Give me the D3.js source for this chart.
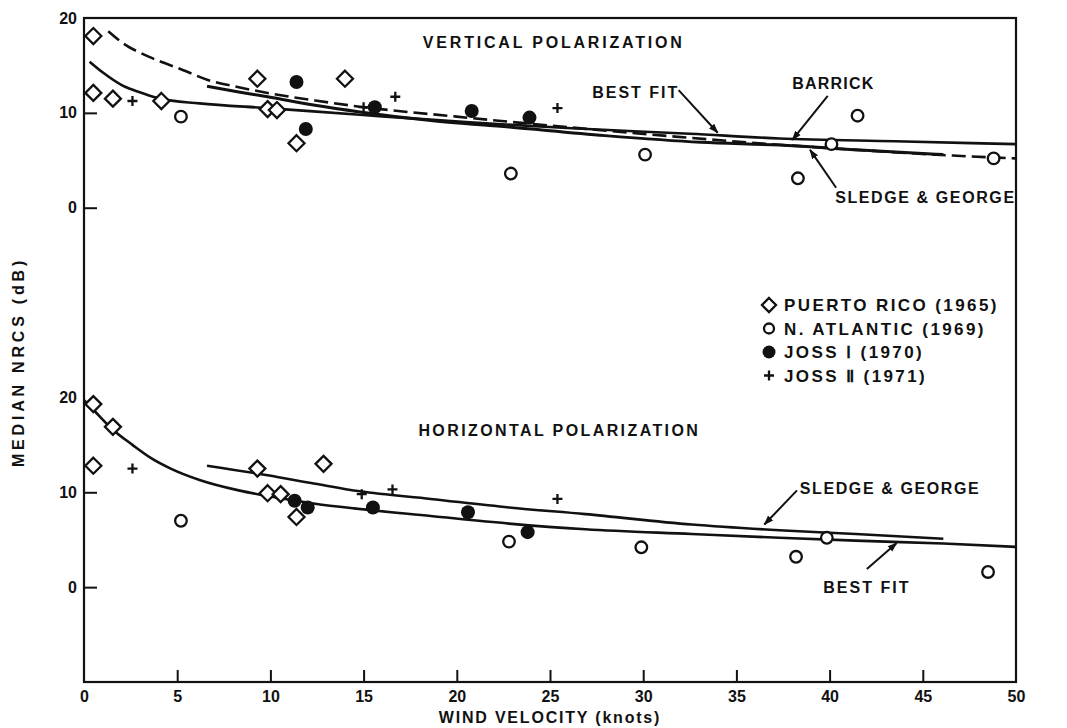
<!DOCTYPE html>
<html><head><meta charset="utf-8">
<script src="https://cdn.jsdelivr.net/npm/d3@7"></script>
<style>
html,body{margin:0;padding:0;background:#fff;}
svg text{font-family:"Liberation Sans",Arial,sans-serif;font-weight:bold;fill:#111;}
</style></head>
<body>
<svg id="chart" width="1067" height="728"></svg>
<script>
// ---------- DATA (wind velocity in knots, median NRCS in dB) ----------
const xTicks = [0,5,10,15,20,25,30,35,40,45,50];
const yTickLabelsTop = [20,10,0];      // vertical-polarization panel
const yTickLabelsBottom = [20,10,0];   // horizontal-polarization panel
const panelOffset = 40;                // dB shift of the upper panel on the shared axis

// Vertical polarization points
const vPuertoRico = [[0.5,18.1],[0.5,12.1],[1.55,11.5],[4.15,11.25],[9.3,13.6],[9.85,10.4],[10.35,10.3],[11.4,6.8],[14.0,13.6]];
const vNAtlantic  = [[5.2,9.6],[22.9,3.6],[30.1,5.6],[40.1,6.7],[38.3,3.1],[41.5,9.7],[48.8,5.2]];
const vJossI      = [[11.4,13.25],[11.9,8.3],[15.6,10.6],[20.8,10.2],[23.9,9.5]];
const vJossII     = [[2.6,11.25],[15.0,10.6],[16.7,11.7],[25.4,10.5]];
// Vertical polarization curves
const vBestFit = [[0.3,15.4],[1.05,14.2],[2.05,12.9],[3.1,12.1],[4.05,11.5],[6.2,11.0],[9.85,10.5],[14.8,9.8],[20.7,9.0],[25.9,8.4],[32.5,7.8],[37.3,7.3],[43.5,7.0],[50,6.7]];
const vSledge  = [[6.6,12.8],[8.3,12.2],[9.85,11.7],[12.4,10.8],[14.8,10.1],[18.6,9.2],[22.8,8.5],[27.95,7.6],[33.1,6.9],[37.3,6.6],[41.4,6.1],[46.1,5.6]];
const vBarrick = [[1.3,18.6],[2.05,17.4],[3.5,15.9],[5.2,14.6],[6.6,13.5],[8.3,12.7],[9.85,12.1],[12.4,11.3],[14.8,10.65],[20.0,9.6],[25.9,8.5],[31.1,7.6],[36.2,6.8],[41.4,6.1],[46.6,5.5],[50,5.2]];

// Horizontal polarization points
const hPuertoRico = [[0.5,19.3],[1.55,16.9],[0.5,12.8],[9.3,12.5],[9.85,9.9],[10.55,9.8],[11.4,7.4],[12.85,13.0]];
const hNAtlantic  = [[5.2,7.0],[22.8,4.8],[29.9,4.2],[39.85,5.2],[38.2,3.2],[48.5,1.6]];
const hJossI      = [[11.3,9.1],[12.0,8.4],[15.5,8.4],[20.6,7.9],[23.8,5.8]];
const hJossII     = [[2.6,12.5],[14.9,9.8],[16.55,10.3],[25.4,9.3]];
// Horizontal polarization curves
const hBestFit = [[0,19.7],[0.5,18.7],[1.55,16.6],[2.6,15.0],[3.6,13.6],[4.65,12.5],[6.2,11.3],[8.3,10.2],[9.85,9.6],[12.4,8.8],[14.5,8.3],[18.6,7.5],[22.8,6.7],[26.9,6.1],[32.6,5.6],[37.3,5.2],[41.4,4.9],[46.1,4.6],[50,4.25]];
const hSledge  = [[6.6,12.8],[9.85,11.8],[12.4,10.9],[14.8,10.1],[18.6,9.3],[22.8,8.4],[26.9,7.7],[32.6,6.6],[37.3,6.0],[41.4,5.6],[46.1,5.1]];

const legendItems = ["PUERTO RICO (1965)","N. ATLANTIC (1969)","JOSS Ⅰ (1970)","JOSS Ⅱ (1971)"];

// ---------- SCALES ----------
const svg = d3.select("#chart");
const x = d3.scaleLinear().domain([0,50]).range([84,1016]);
const y = d3.scaleLinear().domain([-10,60]).range([682,18]);
const yTop = v => y(v + panelOffset);
const yBot = v => y(v);

const ink = "#111";

// frame
svg.append("rect").attr("x",x(0)).attr("y",y(60)).attr("width",x(50)-x(0)).attr("height",y(-10)-y(60))
  .attr("fill","none").attr("stroke",ink).attr("stroke-width",2.2);

// x axis
const xAxis = d3.axisBottom(x).tickValues(xTicks).tickSizeInner(-12).tickSizeOuter(0).tickPadding(9).tickFormat(d3.format("d"));
const gx = svg.append("g").attr("transform",`translate(0,${y(-10)})`).call(xAxis);
gx.select(".domain").remove();
gx.selectAll(".tick line").attr("stroke",ink).attr("stroke-width",2);
gx.selectAll(".tick line").filter(d=>d===0||d===50).remove();
gx.selectAll("text").attr("font-size",16).style("font-family","Liberation Sans").style("font-weight","bold").attr("fill",ink);

// y axis (shared, two panels)
const yTickVals = [60,50,40,20,10,0];
const yAxis = d3.axisLeft(y).tickValues(yTickVals).tickSizeInner(-13).tickSizeOuter(0).tickPadding(7)
  .tickFormat(d => d >= panelOffset ? String(d - panelOffset) : String(d));
const gy = svg.append("g").attr("transform",`translate(${x(0)},0)`).call(yAxis);
gy.select(".domain").remove();
gy.selectAll(".tick line").attr("stroke",ink).attr("stroke-width",2);
gy.selectAll(".tick line").filter(d=>d===60||d===20).remove();
gy.selectAll("text").attr("font-size",16).style("font-family","Liberation Sans").style("font-weight","bold").attr("fill",ink);

// axis titles
svg.append("text").attr("x",(x(0)+x(50))/2).attr("y",723).attr("text-anchor","middle")
  .attr("font-size",16).attr("letter-spacing",1.8).text("WIND VELOCITY (knots)");
svg.append("text").attr("transform",`translate(24,${362}) rotate(-90)`).attr("text-anchor","middle")
  .attr("font-size",16).attr("letter-spacing",3.8).text("MEDIAN NRCS (dB)");

// ---------- CURVES ----------
function curve(data, yf, dashed){
  const line = d3.line().x(d=>x(d[0])).y(d=>yf(d[1])).curve(d3.curveMonotoneX);
  const p = svg.append("path").datum(data).attr("d",line).attr("fill","none")
    .attr("stroke",ink).attr("stroke-width",2.6).attr("stroke-linecap","butt");
  if(dashed) p.attr("stroke-dasharray","14,6");
  return p;
}
curve(vBarrick, yTop, true);
curve(vSledge, yTop, false).attr("stroke-width",3);
curve(vBestFit, yTop, false);
curve(hSledge, yBot, false);
curve(hBestFit, yBot, false);

// ---------- MARKERS ----------
function diamonds(data, yf){
  svg.append("g").selectAll("path").data(data).join("path")
    .attr("d", d=>{const cx=x(d[0]), cy=yf(d[1]), r=8; return `M${cx},${cy-r}L${cx+r},${cy}L${cx},${cy+r}L${cx-r},${cy}Z`;})
    .attr("fill","#fff").attr("stroke",ink).attr("stroke-width",2.3);
}
function circles(data, yf){
  svg.append("g").selectAll("circle").data(data).join("circle")
    .attr("cx",d=>x(d[0])).attr("cy",d=>yf(d[1])).attr("r",5.8)
    .attr("fill","#fff").attr("stroke",ink).attr("stroke-width",2.3);
}
function dots(data, yf){
  svg.append("g").selectAll("circle").data(data).join("circle")
    .attr("cx",d=>x(d[0])).attr("cy",d=>yf(d[1])).attr("r",7).attr("fill",ink);
}
function pluses(data, yf){
  svg.append("g").selectAll("path").data(data).join("path")
    .attr("d", d=>{const cx=x(d[0]), cy=yf(d[1]), r=5; return `M${cx-r},${cy}H${cx+r}M${cx},${cy-r}V${cy+r}`;})
    .attr("fill","none").attr("stroke",ink).attr("stroke-width",2.3);
}
diamonds(vPuertoRico, yTop); circles(vNAtlantic, yTop); dots(vJossI, yTop); pluses(vJossII, yTop);
diamonds(hPuertoRico, yBot); circles(hNAtlantic, yBot); dots(hJossI, yBot); pluses(hJossII, yBot);

// ---------- ANNOTATIONS ----------
svg.append("defs").append("marker").attr("id","ah").attr("viewBox","0 0 10 10").attr("refX",9).attr("refY",5)
  .attr("markerWidth",5).attr("markerHeight",5).attr("orient","auto-start-reverse")
  .append("path").attr("d","M0,1.5L10,5L0,8.5Z").attr("fill",ink);

function label(txt, kx, v, yf, anchor, ls){
  svg.append("text").attr("x",x(kx)).attr("y",yf(v)).attr("dy","0.36em").attr("text-anchor",anchor||"middle")
    .attr("font-size",16).attr("letter-spacing",ls==null?2:ls).text(txt);
}
function arrow(k1,v1,k2,v2,yf){
  svg.append("line").attr("x1",x(k1)).attr("y1",yf(v1)).attr("x2",x(k2)).attr("y2",yf(v2))
    .attr("stroke",ink).attr("stroke-width",2).attr("marker-end","url(#ah)");
}
label("VERTICAL POLARIZATION", 25.2, 17.4, yTop, "middle", 2.8);
label("BEST FIT", 29.6, 12.2, yTop);
arrow(31.9,12.4,34.0,7.9,yTop);
label("BARRICK", 40.2, 13.15, yTop, "middle", 1.2);
arrow(39.9,11.8,38.0,7.15,yTop);
label("SLEDGE & GEORGE", 40.3, 1.1, yTop, "start", 1.6);
arrow(40.35,2.1,38.95,6.1,yTop);

label("HORIZONTAL POLARIZATION", 25.5, 16.55, yBot, "middle", 2.4);
label("SLEDGE & GEORGE", 38.4, 10.4, yBot, "start", 1.6);
arrow(38.25,10.2,36.5,6.6,yBot);
label("BEST FIT", 42.0, 0.0, yBot);
arrow(42.0,1.9,43.6,4.65,yBot);

// ---------- LEGEND ----------
const lg = svg.append("g").attr("transform","translate(769,305)");
legendItems.forEach((t,i)=>{
  const gy0 = i*23.5;
  if(i===0) lg.append("path").attr("d",`M0,${gy0-7}L7,${gy0}L0,${gy0+7}L-7,${gy0}Z`).attr("fill","#fff").attr("stroke",ink).attr("stroke-width",2.3);
  if(i===1) lg.append("circle").attr("cy",gy0).attr("r",5).attr("fill","#fff").attr("stroke",ink).attr("stroke-width",2.3);
  if(i===2) lg.append("circle").attr("cy",gy0).attr("r",6.5).attr("fill",ink);
  if(i===3) lg.append("path").attr("d",`M-5,${gy0}H5M0,${gy0-5}V${gy0+5}`).attr("stroke",ink).attr("stroke-width",2.3);
  lg.append("text").attr("x",15).attr("y",gy0).attr("dy","0.36em").attr("font-size",17).attr("letter-spacing",2.4).text(t);
});
</script>
</body></html>
